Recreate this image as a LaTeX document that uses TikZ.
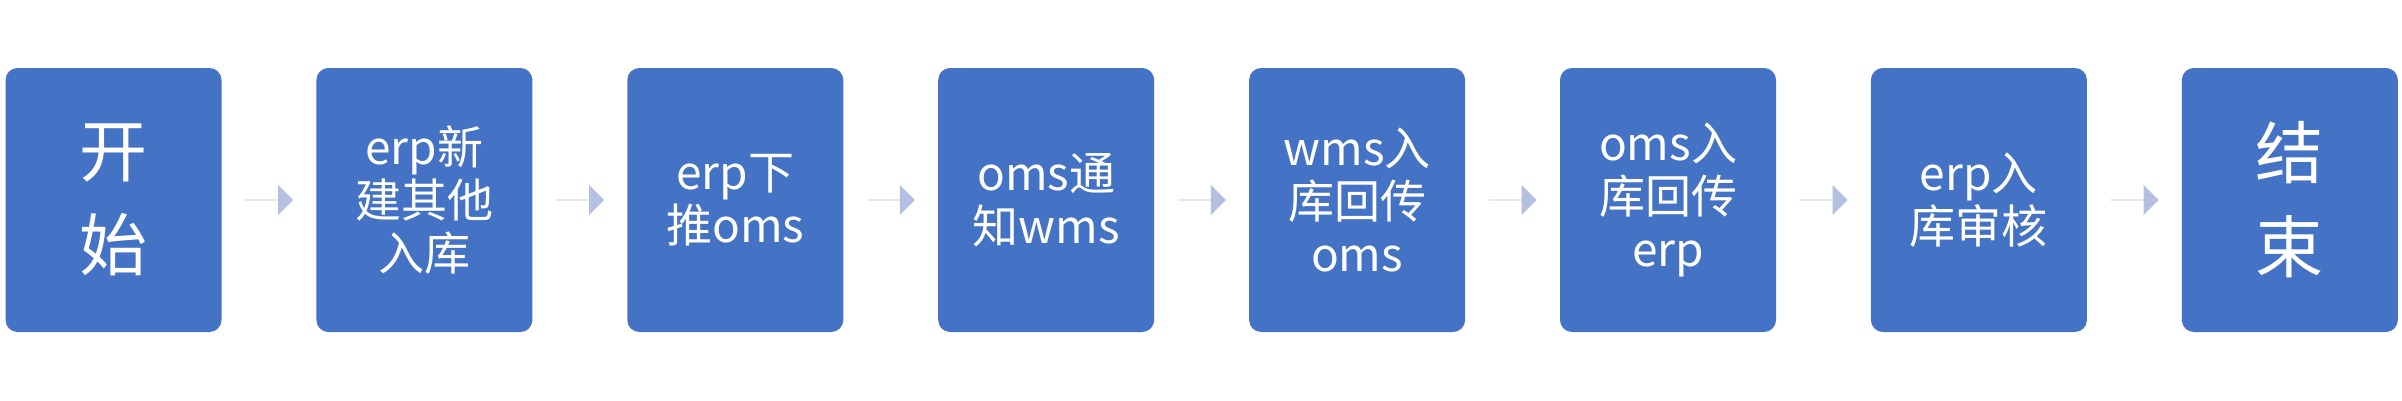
\documentclass[tikz,border=0pt]{standalone}
\usepackage{fontspec}
\newfontfamily\cjk{Noto Sans CJK SC}
\usetikzlibrary{positioning,shapes.arrows,calc}
\tikzset{
  stage/.style={draw=none, rectangle, rounded corners=12pt, fill=stepblue, minimum height=264pt, minimum width=216pt, text width=200pt, align=center, text=white, font=\cjk\fontsize{46}{53}\selectfont},
  bigstage/.style={stage, font=\cjk\fontsize{68}{94}\selectfont},
  pointer/.style={single arrow, draw=none, fill=pointerblue, minimum height=48pt, minimum width=30pt, single arrow head extend=10pt, inner sep=0pt}
}
\definecolor{stepblue}{HTML}{4472C4}
\definecolor{pointerblue}{HTML}{B4C0E2}
\begin{document}
\begin{tikzpicture}[x=1pt,y=1pt]
\useasboundingbox (0,0) rectangle (2402,400);
\node (start)[bigstage] at (113.5,200) {开\\始};
\node (create)[stage, right=94.5pt of start] {erp新\\建其他\\入库};
\node (push)[stage, right=94.5pt of create] {erp下\\推oms};
\node (notify)[stage, right=94.5pt of push] {oms通\\知wms};
\node (wmsback)[stage, right=94.5pt of notify] {wms入\\库回传\\oms};
\node (omsback)[stage, right=94.5pt of wmsback] {oms入\\库回传\\erp};
\node (audit)[stage, right=94.5pt of omsback] {erp入\\库审核};
\node (end)[bigstage, right=94.5pt of audit] {结\\束};

% arrows between the stages
\foreach \a/\b in {start/create,create/push,push/notify,notify/wmsback,wmsback/omsback,omsback/audit,audit/end}
  \node (\a-\b)[pointer] at ($(\a.east)!0.5!(\b.west)$) {};
\end{tikzpicture}
\end{document}
